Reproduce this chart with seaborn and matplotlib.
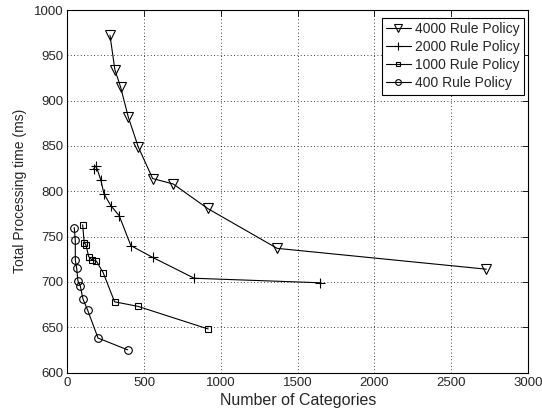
import matplotlib
matplotlib.use("Agg")
import matplotlib.pyplot as plt
import seaborn as sns
import pandas as pd

# Data
labels = ["4000 Rule Policy", "2000 Rule Policy", "1000 Rule Policy", "400 Rule Policy"]

x_4000 = [277, 309, 346, 396, 461, 555, 689, 913, 1366, 2729]
y_4000 = [972, 934, 915, 882, 849, 814, 808, 781, 737, 714]

x_2000 = [171, 186, 218, 238, 283, 337, 413, 555, 826, 1648]
y_2000 = [825, 828, 812, 797, 784, 773, 740, 727, 704, 699]

x_1000 = [99, 109, 120, 138, 160, 188, 233, 307, 459, 917]
y_1000 = [763, 743, 741, 728, 724, 723, 710, 678, 673, 648]

x_400 = [44, 51, 51, 60, 68, 83, 101, 131, 199, 392]
y_400 = [760, 746, 724, 715, 701, 696, 681, 669, 638, 625]

xticks = [0, 500, 1000, 1500, 2000, 2500, 3000]
yticks = [600, 650, 700, 750, 800, 850, 900, 950, 1000]

sns.set_style("white")
plt.rcParams["font.family"] = ["Liberation Sans", "DejaVu Sans"]

fig = plt.figure(figsize=(5.42, 4.15), dpi=100)
ax = fig.add_axes([0.1245, 0.1024, 0.8495, 0.8735])

series = [(x_4000, y_4000, "v", 7.5), (x_2000, y_2000, "+", 7.5),
          (x_1000, y_1000, "s", 4.5), (x_400, y_400, "o", 5.5)]
for (xs, ys, mk, ms), lab in zip(series, labels):
    df = pd.DataFrame({"x": xs, "y": ys})
    sns.lineplot(data=df, x="x", y="y", ax=ax, sort=False, estimator=None,
                 color="black", linewidth=0.8, marker=mk, markersize=ms,
                 markerfacecolor="none", markeredgecolor="black",
                 markeredgewidth=0.8, label=lab)

ax.set_xlim(0, 3000)
ax.set_ylim(600, 1000)
ax.set_xticks(xticks)
ax.set_yticks(yticks)
ax.set_xlabel("Number of Categories", fontsize=11.5, labelpad=3)
ax.set_ylabel("Total Processing time (ms)", fontsize=10, labelpad=5)
ax.tick_params(axis="both", which="both", direction="in", length=4, width=0.6,
               labelsize=9.5, top=True, right=True, color="black")
ax.tick_params(axis="x", pad=3)
ax.tick_params(axis="y", pad=3)
ax.grid(True, linestyle=(0, (1, 3)), color="black", linewidth=0.6)
for sp in ax.spines.values():
    sp.set_color("black")
    sp.set_linewidth(0.8)

leg = ax.legend(loc="upper right", bbox_to_anchor=(0.9913, 0.9788),
                fontsize=10, frameon=True, fancybox=False,
                edgecolor="black", framealpha=1, borderpad=0.3,
                labelspacing=0.3, handlelength=1.8, handletextpad=0.3,
                borderaxespad=0, markerscale=0.75)
leg.get_frame().set_linewidth(0.8)

fig.savefig("out.png", dpi=100)
